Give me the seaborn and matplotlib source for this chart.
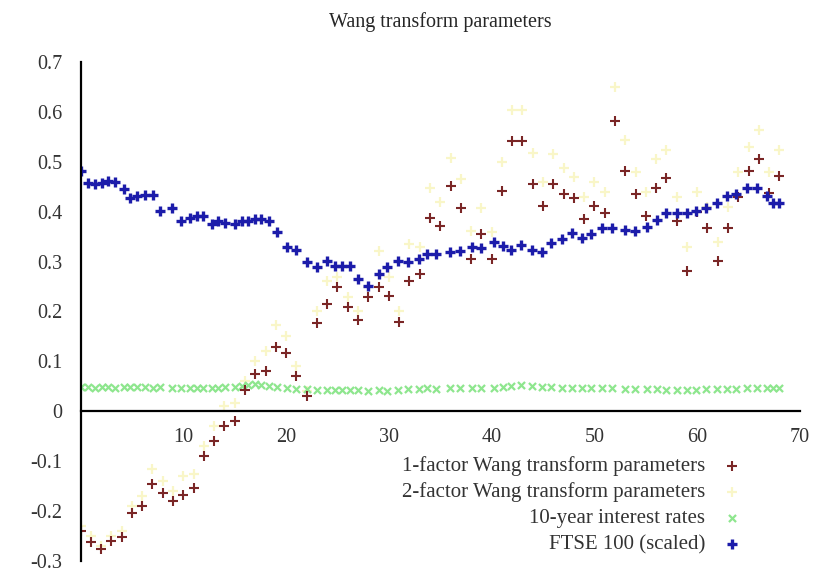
import matplotlib
matplotlib.use('Agg')
import matplotlib.pyplot as plt
import seaborn as sns

# quarters (x) for the Wang parameters
param_x = list(range(69))
one_factor = [-0.239, -0.262, -0.276, -0.259, -0.252, -0.203, -0.189, -0.146, -0.163, -0.179,
              -0.167, -0.153, -0.090, -0.060, -0.030, -0.020, 0.043, 0.075, 0.080, 0.129,
              0.116, 0.070, 0.030, 0.176, 0.216, 0.249, 0.209, 0.182, 0.229, 0.250,
              0.232, 0.179, 0.262, 0.276, 0.388, 0.372, 0.451, 0.408, 0.305, 0.355,
              0.305, 0.441, 0.541, 0.541, 0.455, 0.412, 0.455, 0.435, 0.428, 0.385,
              0.412, 0.398, 0.581, 0.481, 0.435, 0.392, 0.448, 0.468, 0.382, 0.282,
              0.400, 0.368, 0.302, 0.368, 0.430, 0.481, 0.505, 0.438, 0.471]
two_factor = [-0.230, -0.250, -0.270, -0.250, -0.240, -0.190, -0.170, -0.115, -0.140, -0.160,
              -0.130, -0.126, -0.070, -0.030, 0.010, 0.017, 0.060, 0.100, 0.120, 0.173,
              0.150, 0.090, 0.040, 0.200, 0.262, 0.270, 0.230, 0.200, 0.250, 0.322,
              0.270, 0.200, 0.335, 0.330, 0.448, 0.420, 0.508, 0.465, 0.362, 0.408,
              0.360, 0.500, 0.604, 0.604, 0.518, 0.460, 0.515, 0.488, 0.470, 0.430,
              0.460, 0.440, 0.650, 0.544, 0.480, 0.440, 0.505, 0.524, 0.430, 0.330,
              0.440, 0.410, 0.340, 0.410, 0.480, 0.530, 0.564, 0.480, 0.524]

# market series sampled on their own dates
market_x = [0, 0.75, 1.4, 2.05, 2.7, 3.35, 4.2, 4.8, 5.5, 6.3,
            7.1, 7.7, 8.9, 9.8, 10.65, 11.3, 11.9, 12.8, 13.4, 14.05,
            15.0, 15.7, 16.3, 17.0, 17.6, 18.3, 19.1, 20.05, 21.0, 22.0,
            23.0, 24.0, 24.8, 25.4, 26.2, 27.0, 28.0, 29.0, 29.8, 30.9,
            31.9, 32.9, 33.7, 34.6, 35.9, 36.9, 38.05, 39.0, 40.2, 41.1,
            41.9, 42.9, 43.9, 44.9, 45.8, 46.8, 47.8, 48.75, 49.7, 50.7,
            51.7, 53.0, 53.9, 55.1, 56.05, 57.0, 58.0, 59.0, 59.9, 60.9,
            61.9, 62.9, 63.8, 64.8, 65.8, 66.75, 67.4, 68.0]
ftse = [0.481, 0.458, 0.456, 0.458, 0.461, 0.460, 0.446, 0.428, 0.431, 0.433,
        0.433, 0.402, 0.408, 0.382, 0.388, 0.392, 0.392, 0.375, 0.382, 0.378,
        0.375, 0.382, 0.382, 0.385, 0.386, 0.382, 0.359, 0.329, 0.324, 0.299,
        0.289, 0.302, 0.292, 0.291, 0.292, 0.266, 0.252, 0.276, 0.289, 0.302,
        0.299, 0.305, 0.315, 0.316, 0.320, 0.322, 0.329, 0.327, 0.339, 0.331,
        0.324, 0.333, 0.323, 0.319, 0.337, 0.345, 0.357, 0.347, 0.356, 0.368,
        0.368, 0.364, 0.361, 0.370, 0.383, 0.398, 0.398, 0.398, 0.402, 0.408,
        0.418, 0.431, 0.435, 0.448, 0.448, 0.431, 0.418, 0.418]
rates = [0.048, 0.048, 0.047, 0.048, 0.048, 0.047, 0.048, 0.049, 0.048, 0.048,
         0.047, 0.048, 0.047, 0.047, 0.046, 0.047, 0.046, 0.047, 0.047, 0.048,
         0.049, 0.050, 0.052, 0.055, 0.053, 0.050, 0.048, 0.046, 0.045, 0.044,
         0.042, 0.043, 0.043, 0.042, 0.043, 0.043, 0.041, 0.042, 0.041, 0.043,
         0.044, 0.044, 0.046, 0.045, 0.046, 0.047, 0.046, 0.046, 0.047, 0.048,
         0.050, 0.052, 0.051, 0.049, 0.048, 0.047, 0.047, 0.046, 0.046, 0.047,
         0.046, 0.045, 0.045, 0.044, 0.044, 0.043, 0.043, 0.042, 0.043, 0.044,
         0.044, 0.045, 0.045, 0.046, 0.046, 0.046, 0.047, 0.047]

xticks = [10, 20, 30, 40, 50, 60, 70]
yticks = [-0.3, -0.2, -0.1, 0, 0.1, 0.2, 0.3, 0.4, 0.5, 0.6, 0.7]
ytick_labels = ['-0.3', '-0.2', '-0.1', '0', '0.1', '0.2', '0.3', '0.4', '0.5', '0.6', '0.7']

sns.set_theme(style='white')
plt.rcParams['font.family'] = ['Liberation Serif', 'DejaVu Serif']

fig = plt.figure(figsize=(8.25, 5.72), dpi=100)
ax = fig.add_axes([80.5 / 825, 11 / 572, 719.5 / 825, 499 / 572])

sns.scatterplot(x=param_x, y=one_factor, marker='+', color='#7a2626', s=50, linewidth=1.5,
                label='1-factor Wang transform parameters', zorder=3, ax=ax)
sns.scatterplot(x=param_x, y=two_factor, marker='+', color='#f9f6c8', s=55, linewidth=1.6,
                label='2-factor Wang transform parameters', zorder=1, ax=ax)
sns.scatterplot(x=market_x, y=rates, marker='x', color='#8ee68e', s=26, linewidth=1.6,
                label='10-year interest rates', zorder=2, ax=ax)
sns.scatterplot(x=market_x, y=ftse, marker='+', color='#1c1caa', s=60, linewidth=2.4,
                label='FTSE 100 (scaled)', zorder=4, ax=ax)

ax.set_xlim(0, 70)
ax.set_ylim(-0.3, 0.7)
ax.set_xticks(xticks)
ax.set_yticks(yticks)
ax.set_yticklabels(ytick_labels)

ax.spines['top'].set_visible(False)
ax.spines['right'].set_visible(False)
ax.spines['bottom'].set_position(('data', 0))
for side in ['left', 'bottom']:
    ax.spines[side].set_color('black')
    ax.spines[side].set_linewidth(1.6)
    ax.spines[side].set_zorder(5)
ax.tick_params(direction='inout', length=12, width=1.6, colors='black',
               labelcolor='#333333', labelsize=14.5)
ax.tick_params(axis='y', pad=7)
ax.tick_params(axis='x', pad=6)

ax.set_title('Wang transform parameters', fontsize=14.5, pad=25)

ax.legend(loc='upper right', bbox_to_anchor=(753 / 825, 1 - 446 / 572),
          bbox_transform=fig.transFigure, markerfirst=False, frameon=False,
          fontsize=15, handlelength=1.0, handletextpad=0.8, labelspacing=0.3,
          borderpad=0, scatterpoints=1, labelcolor='#333333')

fig.savefig('out.png', dpi=100)
